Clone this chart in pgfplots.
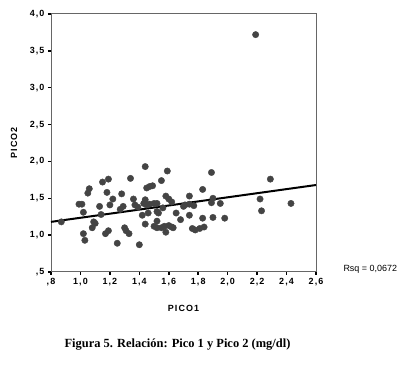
\documentclass[border=0pt]{standalone}
\usepackage{fontspec}
\setmainfont{Liberation Sans}
\newfontfamily\tickfont[LetterSpace=12]{Liberation Sans}
\newfontfamily\capfont{Liberation Serif}
\usepackage{pgfplots}
\pgfplotsset{compat=1.18}
\definecolor{dotc}{HTML}{444444}
\begin{document}
\begin{tikzpicture}
\useasboundingbox (0,0) rectangle (400bp,365bp);
\begin{axis}[
 at={(51bp,93bp)}, anchor=south west,
 scale only axis, width=265bp, height=258bp,
 xmin=0.8, xmax=2.6, ymin=0.5, ymax=4.0,
 xtick={0.8,1,1.2,1.4,1.6,1.8,2,2.2,2.4,2.6},
 xticklabels={{,8},{1,0},{1,2},{1,4},{1,6},{1,8},{2,0},{2,2},{2,4},{2,6}},
 ytick={0.5,1,1.5,2,2.5,3,3.5,4},
 yticklabels={{,5},{1,0},{1,5},{2,0},{2,5},{3,0},{3,5},{4,0}},
 tick align=outside, xtick pos=bottom, ytick pos=left,
 major tick length=3bp,
 every tick/.style={black, line width=1.5bp},
 axis line style={gray!80!black, line width=1bp},
 ticklabel style={font=\tickfont\bfseries\fontsize{9}{10}\selectfont},
 xlabel={PICO1},
 label style={font=\tickfont\bfseries\fontsize{9}{11}\selectfont},
 xlabel style={at={(axis description cs:0.5,0)}, anchor=center, yshift=-36bp},
 clip=false,
]
\addplot[only marks, mark=*, mark size=3.2bp, mark options={fill=dotc, draw=dotc}] table {
x y
0.87 1.18
0.99 1.42
1.01 1.42
1.02 1.31
1.02 1.02
1.03 0.93
1.05 1.57
1.06 1.63
1.08 1.10
1.09 1.18
1.10 1.16
1.13 1.39
1.14 1.28
1.15 1.72
1.19 1.76
1.18 1.58
1.17 1.02
1.19 1.06
1.20 1.41
1.22 1.49
1.25 0.89
1.28 1.56
1.27 1.35
1.29 1.39
1.30 1.10
1.31 1.06
1.33 1.02
1.34 1.77
1.36 1.49
1.37 1.41
1.39 1.38
1.40 0.87
1.44 1.93
1.59 1.87
1.89 1.85
1.55 1.74
1.45 1.64
1.47 1.66
1.49 1.67
1.83 1.62
1.44 1.48
1.43 1.43
1.45 1.41
1.47 1.42
1.50 1.43
1.52 1.43
1.58 1.53
1.60 1.49
1.62 1.45
1.74 1.53
1.71 1.41
1.74 1.42
1.77 1.40
1.70 1.39
1.90 1.50
1.89 1.44
1.95 1.43
1.42 1.27
1.46 1.30
1.52 1.32
1.53 1.30
1.56 1.37
1.65 1.30
1.44 1.15
1.52 1.19
1.68 1.21
1.74 1.27
1.83 1.23
1.90 1.24
1.98 1.23
1.50 1.12
1.52 1.10
1.55 1.10
1.57 1.12
1.60 1.13
1.62 1.11
1.63 1.10
1.58 1.04
1.76 1.09
1.78 1.07
1.81 1.09
1.84 1.11
2.19 3.72
2.22 1.49
2.23 1.33
2.29 1.76
2.43 1.43
};
\addplot[black, line width=2bp] coordinates {(0.8,1.18) (2.6,1.68)};
\end{axis}
\node[font=\tickfont\bfseries\fontsize{9}{11}\selectfont, rotate=90] at (14bp,222bp) {PICO2};
\node[font=\fontsize{9}{11}\selectfont, anchor=west] at (340bp,96bp) {Rsq = 0,0672};
\node[font=\capfont\bfseries\fontsize{12.5}{14}\selectfont] at (177.5bp,20bp) {Figura 5. Relación: Pico 1 y Pico 2 (mg/dl)};
\end{tikzpicture}
\end{document}
